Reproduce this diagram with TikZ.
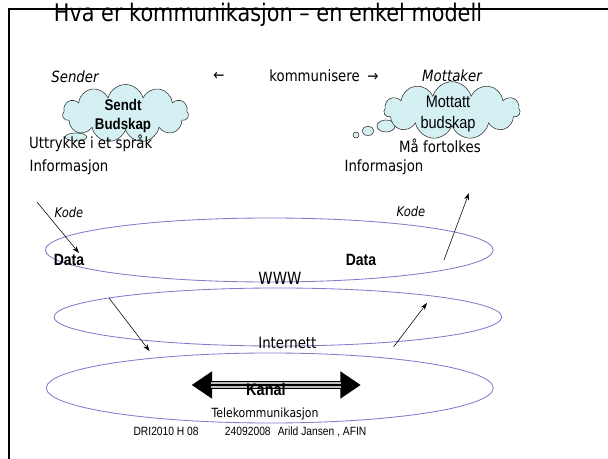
\documentclass[tikz,border=0pt]{standalone}
\usepackage{fontspec}
\setmainfont{DejaVu Sans}[FakeStretch=0.86]
\newfontfamily\arialfont{Liberation Sans}[FakeStretch=0.86]
\usetikzlibrary{arrows.meta,positioning,shapes.geometric,shapes.symbols}
\definecolor{ringblue}{RGB}{125,125,205}
\definecolor{cloudfill}{RGB}{212,240,242}

\begin{document}
\begin{tikzpicture}[x=0.025cm,y=-0.025cm,
	txt/.style={font=\fontsize{11}{13}\selectfont, inner sep=1pt},
	txti/.style={font=\fontsize{11}{13}\itshape\selectfont, inner sep=1pt},
	kode/.style={font=\fontsize{9.5}{11}\itshape\selectfont, inner sep=1pt},
	sans/.style={font=\arialfont\fontsize{12}{15}\selectfont, inner sep=1pt, align=center},
	sansb/.style={font=\arialfont\bfseries\fontsize{11.6}{13}\selectfont, inner sep=1pt, align=center},
	ring/.style={ellipse, draw=ringblue, line width=0.6pt, inner sep=0pt},
	thought/.style={cloud, cloud puffs=11, cloud ignores aspect, draw=black!80, line width=0.4pt, fill=cloudfill, inner sep=0pt},
	puff/.style={ellipse, draw=black!80, line width=0.4pt, fill=cloudfill, inner sep=0pt},
	flow/.style={-{Stealth[length=5pt,width=3.5pt]}, line width=0.4pt}]
		\useasboundingbox (0,0) rectangle (608,459);
		\clip (0,0) rectangle (608,459);
		
		% Frame and title
		\draw[line width=1.5pt] (9,459) -- (9,9) -- (608,9);
		\node[font=\fontsize{17.2}{20}\selectfont, anchor=base] (title) at (268,22) {Hva er kommunikasjon – en enkel modell};
		
		% Thought clouds
		\node[puff, minimum width=0.54cm, minimum height=0.2cm] (puffL) at (76,137) {};
		\node[thought, minimum width=3.15cm, minimum height=1.45cm] (sendt) at (125.5,113.5) {};
		\node[sansb, font=\arialfont\bfseries\fontsize{11}{13}\selectfont] (sendtTxt) at (123,116) {Sendt\\Budskap};
		\node[puff, minimum width=0.15cm, minimum height=0.15cm] (puffR3) at (356,135) {};
		\node[puff, minimum width=0.3cm, minimum height=0.225cm] (puffR2) at (368,131) {};
		\node[puff, minimum width=0.45cm, minimum height=0.3cm] (puffR1) at (386,126) {};
		\node[thought, minimum width=3.4cm, minimum height=1.44cm] (mottatt) at (452,110.5) {};
		\node[sans] (mottattTxt) at (448,114) {Mottatt\\budskap};
		
		% Sender / receiver row
		\node[txti] (sender) at (75,77) {Sender};
		\node[txt] (venstre) at (219,76) {←};
		\node[txt] (komm) at (324,76) {kommunisere\enspace→};
		\node[txti] (mottaker) at (452,76) {Mottaker};
		\node[txt, anchor=west] (uttrykk) at (27.5,143) {Uttrykke i et språk};
		\node[txt] (tolkes) at (440,146) {Må fortolkes};
		\node[txt] (infoL) at (69,167) {Informasjon};
		\node[txt] (infoR) at (384,167) {Informasjon};
		\node[kode] (kodeL) at (69,213) {Kode};
		\node[kode] (kodeR) at (411,212) {Kode};
		
		% Layers
		\node[ring, minimum width=11.19cm, minimum height=1.6cm] (www) at (269.3,250) {};
		\node[ring, minimum width=11.19cm, minimum height=1.45cm] (inet) at (277.9,317) {};
		\node[ring, minimum width=11.17cm, minimum height=1.75cm] (tele) at (269.8,388) {};
		\node[sansb] (dataL) at (69,260) {Data};
		\node[sansb] (dataR) at (361,260) {Data};
		\node[font=\fontsize{12}{14}\selectfont] (wwwlbl) at (280,278) {WWW};
		\node[txt] (inetlbl) at (287.4,343) {Internett};
		\node[font=\fontsize{9}{11}\selectfont] (telelbl) at (265,414) {Telekommunikasjon};
		
		% Coding arrows
		\coordinate (a1s) at (37,202); \coordinate (a1e) at (79,253);
		\coordinate (a2s) at (444,260); \coordinate (a2e) at (469,193);
		\coordinate (a3s) at (109,298); \coordinate (a3e) at (149.5,351);
		\coordinate (a4s) at (393.5,347); \coordinate (a4e) at (427,303);
		\draw[flow] (a1s) -- (a1e);
		\draw[flow] (a2s) -- (a2e);
		\draw[flow] (a3s) -- (a3e);
		\draw[flow] (a4s) -- (a4e);
		
		% Channel
		\coordinate (kanalL) at (191.6,385);
		\coordinate (kanalR) at (360.8,385);
		\draw[line width=5.7pt, {Triangle[length=14.6pt,width=18.5pt]}-{Triangle[length=14.6pt,width=18.5pt]}] (kanalL) -- (kanalR);
		\draw[line width=3.6pt, black!25, shorten <=14pt, shorten >=14pt] (kanalL) -- (kanalR);
		\draw[line width=0.9pt, shorten <=14pt, shorten >=14pt] (kanalL) -- (kanalR);
		\node[sansb, font=\arialfont\bfseries\fontsize{12}{14}\selectfont] (kanal) at (266,389) {Kanal};
		
		% Footer
		\node[font=\arialfont\fontsize{8.5}{10}\selectfont] (footer) at (250,432) {DRI2010 H 08\hspace{2.2em}24092008\hspace{0.6em}Arild Jansen , AFIN};
		\node[font=\arialfont\fontsize{8.5}{10}\selectfont, anchor=west] (sidenr) at (603,432) {2};
	\end{tikzpicture}
\end{document}
